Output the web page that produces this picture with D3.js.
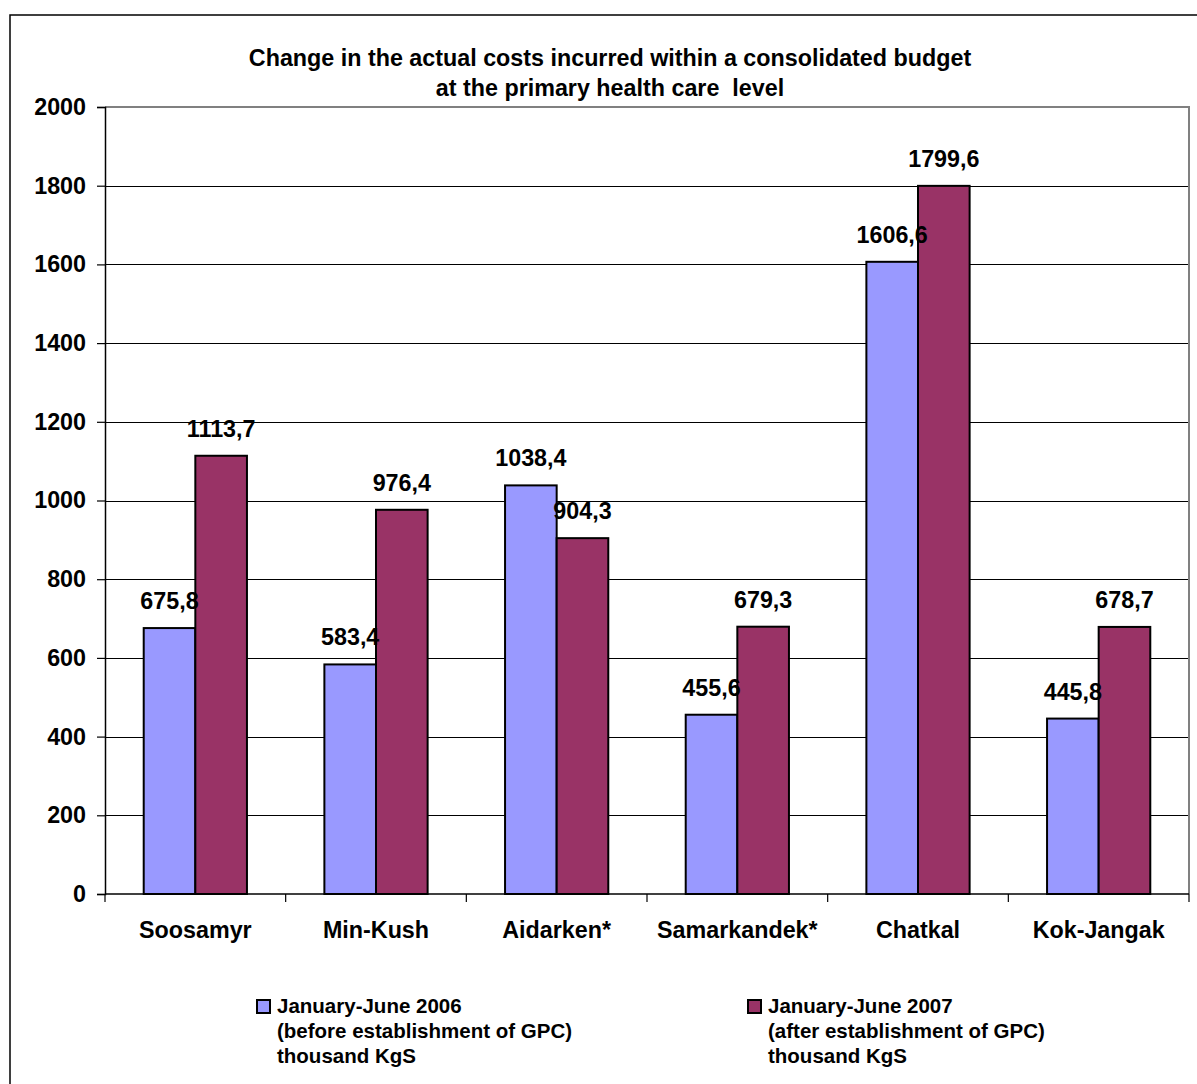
<!DOCTYPE html>
<html>
<head>
<meta charset="utf-8">
<script src="https://cdn.jsdelivr.net/npm/d3@7"></script>
<style>
  html, body { margin: 0; padding: 0; background: #fff; }
  svg { display: block; font-family: "Liberation Sans", Arial, sans-serif; font-weight: bold; }
</style>
</head>
<body>
<svg id="chart" width="1197" height="1084"></svg>
<script>
// Districts and costs (thousand KgS)
const categories = ["Soosamyr", "Min-Kush", "Aidarken*", "Samarkandek*", "Chatkal", "Kok-Jangak"];
const values2006 = [675.8, 583.4, 1038.4, 455.6, 1606.6, 445.8];
const values2007 = [1113.7, 976.4, 904.3, 679.3, 1799.6, 678.7];
const yTicks = [0, 200, 400, 600, 800, 1000, 1200, 1400, 1600, 1800, 2000];
const titleLines = [
  "Change in the actual costs incurred within a consolidated budget",
  "at the primary health care  level"
];
const seriesNames = [
  ["January-June 2006", "(before establishment of GPC)", "thousand KgS"],
  ["January-June 2007", "(after establishment of GPC)", "thousand KgS"]
];
const seriesColors = ["#9999FF", "#993366"];

const svg = d3.select("#chart");
const plot = { left: 105, right: 1189, top: 107, bottom: 894 };
const labelSize = 23.3;

// Outer chart frame (runs off the right and bottom edges)
svg.append("rect")
  .attr("x", 10).attr("y", 15)
  .attr("width", 1300).attr("height", 1200)
  .attr("fill", "none").attr("stroke", "#000").attr("stroke-width", 1.5);

// Title
svg.append("g").selectAll("text").data(titleLines).join("text")
  .attr("x", 610).attr("y", (d, i) => 66 + i * 30)
  .attr("text-anchor", "middle")
  .attr("font-size", 23.3)
  .style("white-space", "pre")
  .text(d => d);

const x0 = d3.scaleBand().domain(categories).range([plot.left, plot.right]).paddingInner(0).paddingOuter(0);
// two bars per category, with a gap of 75% of a bar width on each side
const barW = x0.bandwidth() / 3.5;
const x1 = d3.scaleBand().domain([0, 1]).range([0, barW * 2]).padding(0);
const y = d3.scaleLinear().domain([0, 2000]).range([plot.bottom, plot.top]);

// Horizontal gridlines
svg.append("g").selectAll("line").data(yTicks.filter(t => t > 0 && t < 2000)).join("line")
  .attr("x1", plot.left).attr("x2", plot.right)
  .attr("y1", d => Math.round(y(d)) + 0.5).attr("y2", d => Math.round(y(d)) + 0.5)
  .attr("stroke", "#000").attr("stroke-width", 1);

// Plot border (top and right, grey)
svg.append("path")
  .attr("d", `M${plot.left},${plot.top}H${plot.right}V${plot.bottom}`)
  .attr("fill", "none").attr("stroke", "#808080").attr("stroke-width", 2);

// Y axis
const yAxis = d3.axisLeft(y).tickValues(yTicks).tickSize(8).tickPadding(11).tickFormat(d3.format("d"));
const gy = svg.append("g").attr("transform", `translate(${plot.left},0)`).call(yAxis);
gy.select(".domain").attr("stroke", "#000").attr("stroke-width", 1.5);
gy.selectAll(".tick line").attr("stroke", "#000").attr("stroke-width", 1.2);
gy.selectAll(".tick text")
  .attr("font-family", "Liberation Sans, Arial, sans-serif")
  .attr("font-weight", "bold").attr("font-size", labelSize).attr("fill", "#000");

// X axis baseline and category boundary ticks
svg.append("line")
  .attr("x1", plot.left).attr("x2", plot.right)
  .attr("y1", plot.bottom).attr("y2", plot.bottom)
  .attr("stroke", "#000").attr("stroke-width", 1.5);
const bounds = categories.map(c => x0(c)).concat([plot.right]);
svg.append("g").selectAll("line").data(bounds).join("line")
  .attr("x1", d => d).attr("x2", d => d)
  .attr("y1", plot.bottom).attr("y2", plot.bottom + 8)
  .attr("stroke", "#000").attr("stroke-width", 1.2);

// Category labels
svg.append("g").selectAll("text").data(categories).join("text")
  .attr("x", d => x0(d) + x0.bandwidth() / 2)
  .attr("y", 938)
  .attr("text-anchor", "middle")
  .attr("font-size", labelSize)
  .text(d => d);

// Bars, then value labels on top of all bars
const fmt = v => v.toFixed(1).replace(".", ",");
const series = [values2006, values2007];
const barX = (s, i) => x0(categories[i]) + (x0.bandwidth() - barW * 2) / 2 + x1(s);
series.forEach((vals, s) => {
  svg.append("g").selectAll("rect").data(vals).join("rect")
    .attr("x", (d, i) => barX(s, i))
    .attr("y", d => y(d))
    .attr("width", barW)
    .attr("height", d => y(0) - y(d))
    .attr("fill", seriesColors[s])
    .attr("stroke", "#000").attr("stroke-width", 2);
});
series.forEach((vals, s) => {
  svg.append("g").selectAll("text").data(vals).join("text")
    .attr("x", (d, i) => barX(s, i) + barW / 2)
    .attr("y", d => y(d) - 19)
    .attr("text-anchor", "middle")
    .attr("font-size", labelSize)
    .text(d => fmt(d));
});

// Legend
const legendX = [257, 748];
seriesNames.forEach((lines, s) => {
  const g = svg.append("g");
  g.append("rect")
    .attr("x", legendX[s]).attr("y", 1000)
    .attr("width", 13).attr("height", 13)
    .attr("fill", seriesColors[s]).attr("stroke", "#000").attr("stroke-width", 2);
  g.selectAll("text").data(lines).join("text")
    .attr("x", legendX[s] + 20)
    .attr("y", (d, i) => 1013 + i * 25)
    .attr("font-size", 20.5)
    .text(d => d);
});
</script>
</body>
</html>
